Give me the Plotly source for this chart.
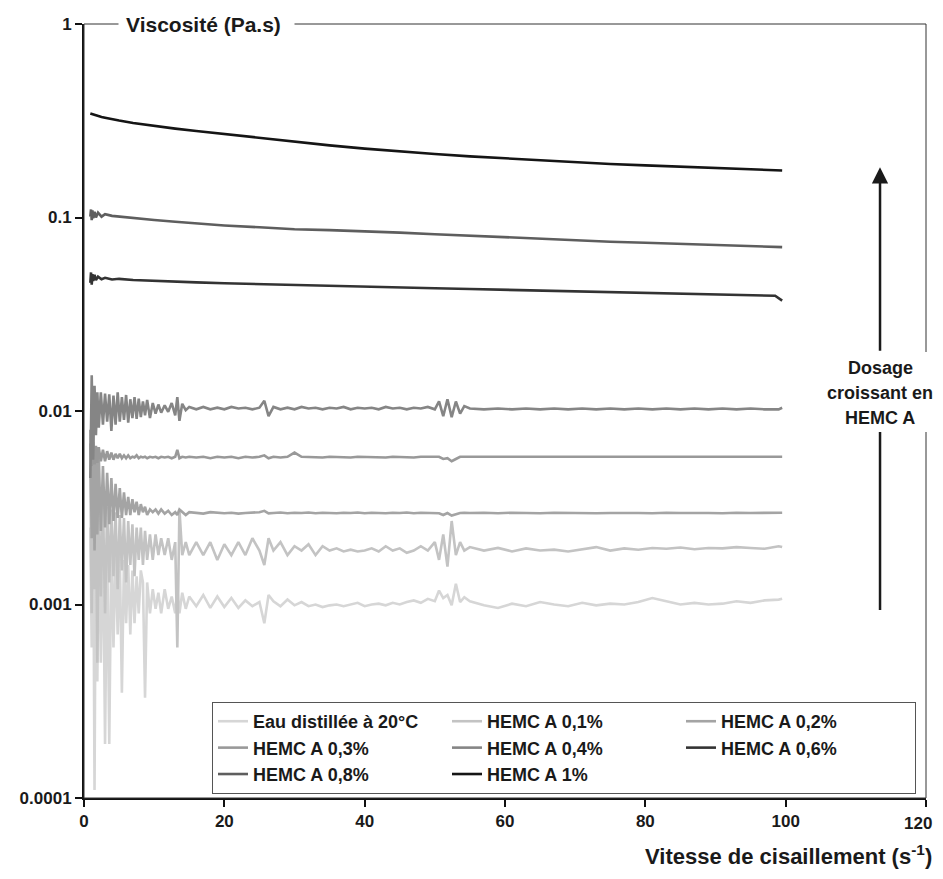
import plotly.graph_objects as go

# ---------------- data ----------------
# shear-rate grid (s^-1) used for the noisy low-viscosity series
shear_rate = [
    0.9, 1.1, 1.3, 1.5, 1.7, 1.9, 2.1, 2.4, 2.7, 3.0,
    3.3, 3.6, 3.9, 4.2, 4.5, 4.8, 5.1, 5.4, 5.7, 6.0,
    6.3, 6.6, 6.9, 7.2, 7.5, 7.8, 8.1, 8.4, 8.7, 9.0,
    9.4, 9.8, 10.2, 10.6, 11.0, 11.5, 12.0, 12.5, 13.0, 13.3,
    13.6, 14.0, 14.5, 15.0,
    16, 17, 18, 19, 20, 21, 22, 23, 24, 25,
    25.7, 26.3,
    27, 28, 29, 30, 31, 32, 33, 34, 35, 36, 37, 38, 39, 40,
    41, 42, 43, 44, 45, 46, 47, 48, 49, 50,
    50.6, 51.2, 51.8, 52.4, 53.0, 53.6, 54.2,
    55, 57, 59, 61, 63, 65, 67, 69, 71, 73, 75, 77, 79, 81,
    83, 85, 87, 89, 91, 93, 95, 97, 99, 99.5,
]

eau_20C = [
    0.0025, 0.0006, 0.0035, 0.00011, 0.003, 0.0004, 0.0028, 0.0005, 0.0025, 0.00019,
    0.0022, 0.00019, 0.0021, 0.0006, 0.0019, 0.0007, 0.0018, 0.00035, 0.0017, 0.0008,
    0.0016, 0.0007, 0.0015, 0.0008, 0.0014, 0.0009, 0.0015, 0.0013, 0.00033, 0.0013,
    0.0009, 0.0012, 0.00095, 0.00115, 0.0009, 0.0012, 0.00095, 0.0011, 0.0009, 0.0012,
    0.0009, 0.00115, 0.00095, 0.0011,
    0.00098, 0.00112, 0.00096, 0.0011, 0.00097, 0.00108, 0.00096, 0.00105, 0.00098, 0.00103,
    0.0008, 0.00112,
    0.00104, 0.00098, 0.00106, 0.00099, 0.00103, 0.00098, 0.001, 0.00097, 0.00099, 0.001,
    0.00098, 0.001, 0.00102, 0.00098, 0.001, 0.00101, 0.00099, 0.00102, 0.001, 0.00103,
    0.00105, 0.00102, 0.00107, 0.00104,
    0.00118, 0.00108, 0.00112, 0.00099, 0.00128, 0.00103, 0.00109,
    0.00104, 0.00099, 0.00096, 0.00101, 0.00098, 0.00103, 0.001, 0.00098, 0.00102, 0.00099,
    0.00101, 0.001, 0.00103, 0.00108, 0.00104, 0.001, 0.00102, 0.001, 0.00101, 0.00104,
    0.00102, 0.00105, 0.00106, 0.00107,
]

hemc_01 = [
    0.0045, 0.0009, 0.004, 0.0012, 0.0038, 0.0005, 0.0036, 0.0011, 0.0034, 0.0009,
    0.0032, 0.0013, 0.0031, 0.0014, 0.003, 0.0012, 0.0029, 0.0015, 0.0028, 0.0013,
    0.0027, 0.0016, 0.0026, 0.0014, 0.0025, 0.0017, 0.0025, 0.0016, 0.0024, 0.0017,
    0.0023, 0.0017, 0.0023, 0.0018, 0.0022, 0.0018, 0.0022, 0.0017, 0.0021, 0.0006,
    0.0031, 0.0018, 0.0021, 0.0018,
    0.0021, 0.0018, 0.0021, 0.0017, 0.00205, 0.0018, 0.0021, 0.0018, 0.0022, 0.0019,
    0.0016, 0.0022,
    0.0019, 0.0021, 0.0018, 0.002, 0.0019, 0.00205, 0.0018, 0.002, 0.0019, 0.00195,
    0.00188, 0.00192, 0.00188, 0.0019, 0.00195, 0.00188, 0.002, 0.0019, 0.00195, 0.00185,
    0.0019, 0.002, 0.0019, 0.0021,
    0.0017, 0.0023, 0.00157, 0.0027, 0.0018, 0.0021, 0.0019,
    0.00198, 0.0019, 0.00196, 0.00188, 0.00195, 0.0019, 0.00192, 0.00188, 0.00193, 0.00198,
    0.0019, 0.00195, 0.00192, 0.00196, 0.00194, 0.00197, 0.00193, 0.00196, 0.00195, 0.00198,
    0.00196, 0.00194, 0.002, 0.00198,
]

hemc_02 = [
    0.008, 0.0022, 0.0075, 0.0019, 0.0065, 0.0023, 0.006, 0.0024, 0.0052, 0.0025,
    0.0048, 0.0026, 0.0045, 0.0027, 0.0042, 0.0028, 0.004, 0.0028, 0.0038, 0.0029,
    0.0036, 0.0029, 0.0035, 0.003, 0.0034, 0.0029, 0.0033, 0.003, 0.0032, 0.0029,
    0.0031, 0.003, 0.0031, 0.00295, 0.0031, 0.00295, 0.00305, 0.0029, 0.003, 0.0029,
    0.0031, 0.003, 0.0029, 0.003,
    0.00298, 0.00295, 0.003, 0.00297, 0.00296, 0.00298, 0.00295, 0.00297, 0.00299, 0.003,
    0.00305, 0.00296,
    0.00297, 0.00299, 0.00296, 0.00298, 0.00297, 0.00299, 0.00296, 0.00298, 0.00297, 0.00296,
    0.00298, 0.00297, 0.00299, 0.00296, 0.00298, 0.00297, 0.00296, 0.00298, 0.00297, 0.00299,
    0.00296, 0.00298, 0.00297, 0.00296,
    0.00296, 0.0029, 0.00297, 0.00288, 0.00293, 0.00297, 0.00298,
    0.00297, 0.00298, 0.00296, 0.00298, 0.00297, 0.00296, 0.00298, 0.00297, 0.00298, 0.00296,
    0.00297, 0.00298, 0.00297, 0.00296, 0.00298, 0.00297, 0.00298, 0.00297, 0.00296, 0.00298,
    0.00297, 0.00298, 0.00297, 0.00298,
]

hemc_03 = [
    0.0068, 0.0052, 0.0069, 0.0053, 0.0066, 0.0054, 0.0065, 0.0055, 0.0063, 0.0055,
    0.0062, 0.0056, 0.0061, 0.0056, 0.006, 0.0057, 0.006, 0.0057, 0.0059, 0.0057,
    0.0059, 0.0057, 0.0058, 0.00575, 0.0059, 0.0057, 0.0058, 0.00575, 0.0058, 0.0057,
    0.0058, 0.00575, 0.0058, 0.0057, 0.0058, 0.00575, 0.0058, 0.0057, 0.0058, 0.0063,
    0.0057, 0.0058, 0.00575, 0.0058,
    0.00575, 0.0058, 0.0057, 0.0058, 0.00575, 0.0058, 0.0057, 0.0058, 0.00575, 0.0058,
    0.0059, 0.0057,
    0.0058, 0.00575, 0.0058, 0.0061, 0.0058, 0.00578, 0.0058, 0.00575, 0.0058, 0.00578,
    0.0058, 0.00575, 0.0058, 0.00578, 0.0058, 0.00578, 0.00575, 0.0058, 0.00578, 0.0058,
    0.00575, 0.0058, 0.00578, 0.0058,
    0.0058, 0.00565, 0.0057, 0.0055, 0.00565, 0.0058, 0.0058,
    0.0058, 0.00578, 0.0058, 0.00578, 0.0058, 0.00578, 0.0058, 0.00578, 0.0058, 0.00578,
    0.0058, 0.00578, 0.0058, 0.00578, 0.0058, 0.00578, 0.0058, 0.00578, 0.0058, 0.00578,
    0.0058, 0.00578, 0.0058, 0.0058,
]

hemc_04 = [
    0.0045, 0.0153, 0.0056, 0.0135, 0.0075, 0.0125, 0.0082, 0.0125, 0.0085, 0.0123,
    0.0088, 0.0122, 0.0079, 0.012, 0.0085, 0.0125, 0.0088, 0.0118, 0.009, 0.0121,
    0.0087, 0.0115, 0.0092, 0.0118, 0.0091, 0.0116, 0.0093, 0.0112, 0.0095, 0.0114,
    0.0092, 0.011, 0.0097, 0.0108, 0.0098, 0.0107, 0.0099, 0.011, 0.0095, 0.0118,
    0.0089, 0.0109, 0.0101, 0.0105,
    0.0102, 0.0105, 0.0102, 0.0104, 0.0102, 0.0105, 0.0103, 0.0104, 0.0102, 0.0104,
    0.0113, 0.0094,
    0.0105, 0.0102, 0.0104, 0.0102, 0.0105, 0.0103, 0.0104, 0.0102, 0.0104, 0.0103,
    0.0105, 0.0102, 0.0104, 0.0103, 0.0104, 0.0102, 0.0105, 0.0103, 0.0104, 0.0102,
    0.0104, 0.0103, 0.0105, 0.0102,
    0.0112, 0.0094, 0.0115, 0.0093, 0.0112, 0.0097, 0.0106,
    0.0103, 0.0102, 0.0103, 0.0102, 0.0103, 0.0102, 0.0103, 0.0102, 0.0103, 0.0102,
    0.0103, 0.0102, 0.0103, 0.0102, 0.0103, 0.0102, 0.0103, 0.0102, 0.0103, 0.0102,
    0.0103, 0.0102, 0.0102, 0.0104,
]

# coarser grid for the smooth, higher-viscosity series
shear_rate_smooth = [
    0.9, 1.0, 1.1, 1.2, 1.3, 1.5, 1.7, 2.0, 2.5, 3,
    4, 5, 7, 10, 13, 16, 20, 25, 30, 35,
    40, 45, 50, 55, 60, 65, 70, 75, 80, 85,
    90, 95, 98.5, 99.5,
]

hemc_06 = [
    0.046, 0.052, 0.045, 0.051, 0.047, 0.0505, 0.0475, 0.0495, 0.048, 0.0488,
    0.0478, 0.0482, 0.0475, 0.0472, 0.0468, 0.0462, 0.0457, 0.0452, 0.0447, 0.0443,
    0.044, 0.0435, 0.0431, 0.0427, 0.0423, 0.042, 0.0415, 0.0411, 0.0408, 0.0404,
    0.04, 0.0397, 0.0394, 0.0372,
]

hemc_08 = [
    0.101, 0.11, 0.097, 0.109, 0.099, 0.107, 0.1, 0.106, 0.101, 0.104,
    0.102, 0.101, 0.099, 0.097, 0.095, 0.093, 0.091, 0.089, 0.087, 0.086,
    0.085, 0.0835, 0.082, 0.0805, 0.079, 0.0775, 0.076, 0.075, 0.074, 0.073,
    0.072, 0.071, 0.0705, 0.0703,
]

hemc_1 = [
    0.345, 0.344, 0.343, 0.342, 0.341, 0.339, 0.337, 0.334, 0.331, 0.328,
    0.322, 0.317, 0.308, 0.297, 0.288, 0.28, 0.27, 0.259, 0.246, 0.236,
    0.227, 0.219, 0.213, 0.207, 0.202, 0.197, 0.193, 0.189, 0.186, 0.183,
    0.18, 0.177, 0.176, 0.175,
]

series_names = ["Eau distillée à 20°C", "HEMC A 0,1%", "HEMC A 0,2%", "HEMC A 0,3%",
                "HEMC A 0,4%", "HEMC A 0,6%", "HEMC A 0,8%", "HEMC A 1%"]
series_x = [shear_rate] * 5 + [shear_rate_smooth] * 3
series_y = [eau_20C, hemc_01, hemc_02, hemc_03, hemc_04, hemc_06, hemc_08, hemc_1]
series_colors = ["#d6d6d6", "#c3c3c3", "#a4a4a4", "#999999",
                 "#858585", "#333333", "#5e5e5e", "#151515"]

x_tickvals = [0, 20, 40, 60, 80, 100, 120]
x_ticktext = ["0", "20", "40", "60", "80", "100", ""]   # last label drawn separately
x_last_label = "120"
y_tickvals = [0.0001, 0.001, 0.01, 0.1, 1]
y_ticktext = ["0.0001", "0.001", "0.01", "0.1", "1"]
side_label_lines = ["Dosage", "croissant en", "HEMC A"]

FONT = "Liberation Sans, Arial, sans-serif"
INK = "#1a1a1a"

fig = go.Figure()
for name, xs, ys, col in zip(series_names, series_x, series_y, series_colors):
    n = min(len(xs), len(ys))
    fig.add_trace(go.Scatter(x=xs[:n], y=ys[:n], mode="lines", name=name,
                             line=dict(color=col, width=2.6)))

# the page body adds an 8 px offset, so the figure is shifted/shrunk accordingly
fig.update_layout(
    width=927, height=863,
    margin=dict(l=76, r=9, t=16, b=73),
    paper_bgcolor="white", plot_bgcolor="white",
    font=dict(family=FONT, color=INK),
    showlegend=True,
    legend=dict(orientation="h", x=0.152, y=0.124, xanchor="left", yanchor="top",
                bgcolor="white", bordercolor="#555555", borderwidth=1,
                entrywidth=189, entrywidthmode="pixels", traceorder="normal",
                font=dict(family=FONT, size=18, weight="bold", color=INK)),
    xaxis=dict(range=[0, 120], tickvals=x_tickvals, ticktext=x_ticktext,
               showgrid=False, zeroline=False, automargin=False,
               showline=True, linewidth=2, linecolor="#111111",
               ticks="outside", ticklen=7, tickwidth=2, tickcolor="#111111",
               tickfont=dict(family=FONT, size=17, weight="bold", color=INK)),
    yaxis=dict(type="log", range=[-4, 0], tickvals=y_tickvals, ticktext=y_ticktext,
               showgrid=False, zeroline=False, automargin=False,
               showline=True, linewidth=2, linecolor="#111111",
               ticks="outside", ticklen=7, tickwidth=2, tickcolor="#111111",
               tickfont=dict(family=FONT, size=17, weight="bold", color=INK)),
)

# thin frame (top & right), white box behind the side label, lower part of the arrow
fig.add_shape(type="rect", xref="paper", yref="paper", x0=0, x1=1, y0=0, y1=1,
              line=dict(color="#333333", width=1), layer="above")
fig.add_shape(type="rect", xref="paper", yref="paper", x0=0.8765, x1=1.012,
              y0=0.4729, y1=0.5762, fillcolor="white", line=dict(width=0), layer="above")
fig.add_shape(type="line", xref="paper", yref="paper", x0=0.9454, x1=0.9454,
              y0=0.2429, y1=0.4729, line=dict(color=INK, width=2.5), layer="above")

# upper part of the arrow with its head
fig.add_annotation(xref="paper", yref="paper", x=0.9454, y=0.8150, text="",
                   showarrow=True, axref="pixel", ayref="pixel", ax=0, ay=185,
                   arrowhead=2, arrowsize=1.3, arrowwidth=2.5, arrowcolor=INK,
                   standoff=0)

for i, line_txt in enumerate(side_label_lines):
    fig.add_annotation(xref="paper", yref="paper", x=0.9454, y=0.5556 - i * 0.0323,
                       text=line_txt, showarrow=False,
                       xanchor="center", yanchor="middle", align="center",
                       font=dict(family=FONT, size=18, weight="bold", color=INK))

# last x tick label, kept inside the page edge
fig.add_annotation(xref="paper", yref="paper", x=1.0095, y=-0.0335, text=x_last_label,
                   showarrow=False, xanchor="right", yanchor="middle",
                   font=dict(family=FONT, size=17, weight="bold", color=INK))

# y-axis title sitting on the top frame line
fig.add_annotation(xref="paper", yref="paper", x=0.0404, y=1.0,
                   text="Viscosité (Pa.s)&nbsp;",
                   showarrow=False, xanchor="left", yanchor="middle", bgcolor="white",
                   borderpad=7,
                   font=dict(family=FONT, size=21, weight="bold", color=INK))

# x-axis title
fig.add_annotation(xref="paper", yref="paper", x=1.0095, y=-0.0736,
                   text="Vitesse de cisaillement (s<sup>-1</sup>)", showarrow=False,
                   xanchor="right", yanchor="middle",
                   font=dict(family=FONT, size=22, weight="bold", color=INK))

fig.write_html("out.html")
